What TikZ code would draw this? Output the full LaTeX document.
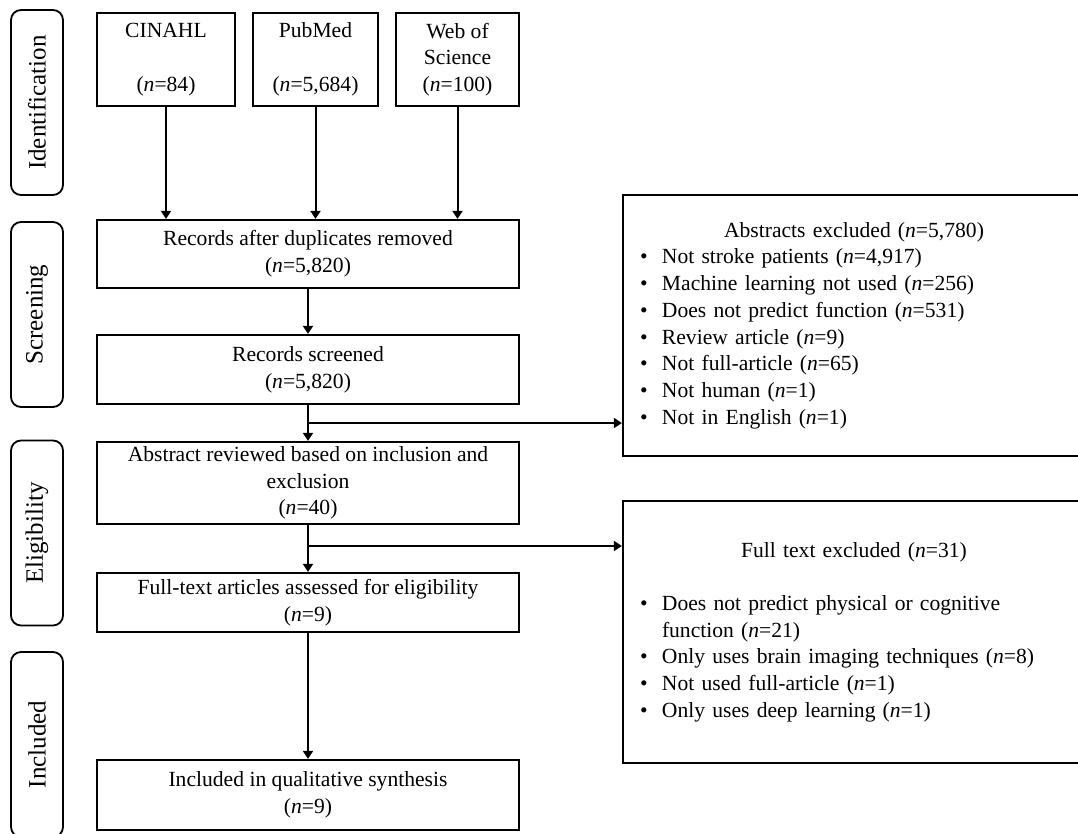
\documentclass[tikz,border=0pt]{standalone}
\usepackage{fontspec}
\setmainfont{Liberation Serif}
\usetikzlibrary{arrows.meta}

\newcommand{\ncount}[1]{(\textit{n}=#1)}
\newcommand{\exitem}[1]{\par\hangindent=11pt\hangafter=1\noindent\makebox[11pt][l]{\textbullet}#1}

\tikzset{
  stagebox/.style={draw, line width=0.9pt, rounded corners=5pt, rotate=90, minimum width=92.5pt, minimum height=26pt, inner sep=0pt, font=\fontsize{12.5}{15}\selectfont},
  flowbox/.style={draw, line width=1.1pt, inner sep=1pt, align=center, font=\fontsize{10.8}{13.35}\selectfont},
  exbox/.style={draw, line width=1.1pt, inner xsep=8.5pt, align=left, text width=214pt, font=\fontsize{10.8}{13.35}\selectfont},
  arr/.style={line width=1pt, -{Triangle[length=4pt,width=5pt]}},
}

\begin{document}
\begin{tikzpicture}[x=1pt, y=-1pt]
\clip (0,0) rectangle (539,417);
% stages
\node[stagebox] (ident) at (18.5,51.25) {Identification};
\node[stagebox] (screen) at (18.5,157.25) {Screening};
\node[stagebox] (elig) at (18.5,266.5) {Eligibility};
\node[stagebox] (incl) at (18.5,372.25) {Included};

% databases
\node[flowbox, minimum width=69pt, minimum height=46.5pt] (cinahl) at (83,29.75) {CINAHL\\[13.35pt]\ncount{84}};
\node[flowbox, minimum width=62.5pt, minimum height=46.5pt] (pubmed) at (157.75,29.75) {PubMed\\[13.35pt]\ncount{5,684}};
\node[flowbox, minimum width=61.5pt, minimum height=46.5pt] (wos) at (228.75,29.75) {Web of\\Science\\\ncount{100}};

% main column
\node[flowbox, minimum width=211pt, minimum height=34pt] (dup) at (154,127) {Records after duplicates removed\\\ncount{5,820}};
\node[flowbox, minimum width=211pt, minimum height=34.5pt] (screened) at (154,184.75) {Records screened\\\ncount{5,820}};
\node[flowbox, minimum width=211pt, minimum height=41pt] (abstract) at (154,241.5) {Abstract reviewed based on inclusion and\\exclusion\\\ncount{40}};
\node[flowbox, minimum width=211pt, minimum height=29.5pt] (fulltext) at (154,301.25) {Full-text articles assessed for eligibility\\\ncount{9}};
\node[flowbox, minimum width=211pt, minimum height=35pt] (included) at (154,397.5) {Included in qualitative synthesis\\\ncount{9}};

% exclusions
\node[exbox, minimum width=231pt, minimum height=130.5pt] (absexcl) at (427,162.75) {%
  {\centering Abstracts excluded \ncount{5,780}\par}
  \exitem{Not stroke patients \ncount{4,917}}
  \exitem{Machine learning not used \ncount{256}}
  \exitem{Does not predict function \ncount{531}}
  \exitem{Review article \ncount{9}}
  \exitem{Not full-article \ncount{65}}
  \exitem{Not human \ncount{1}}
  \exitem{Not in English \ncount{1}}};
\node[exbox, minimum width=231pt, minimum height=131pt] (ftexcl) at (427,316) {%
  {\centering Full text excluded \ncount{31}\par}
  \vspace{13.35pt}
  \exitem{Does not predict physical or cognitive\hfil\break function \ncount{21}}
  \exitem{Only uses brain imaging techniques \ncount{8}}
  \exitem{Not used full-article \ncount{1}}
  \exitem{Only uses deep learning \ncount{1}}};

% arrows
\draw[arr] (cinahl) -- (cinahl |- dup.north);
\draw[arr] (pubmed) -- (pubmed |- dup.north);
\draw[arr] (wos) -- (wos |- dup.north);
\draw[arr] (dup) -- (screened);
\draw[arr] (screened) -- (abstract);
\draw[arr] (abstract) -- (fulltext);
\draw[arr] (fulltext) -- (included);
\coordinate (split1) at (154,211.5);
\coordinate (split2) at (154,273);
\draw[arr] (split1) -- (split1 -| absexcl.west);
\draw[arr] (split2) -- (split2 -| ftexcl.west);
\end{tikzpicture}
\end{document}
